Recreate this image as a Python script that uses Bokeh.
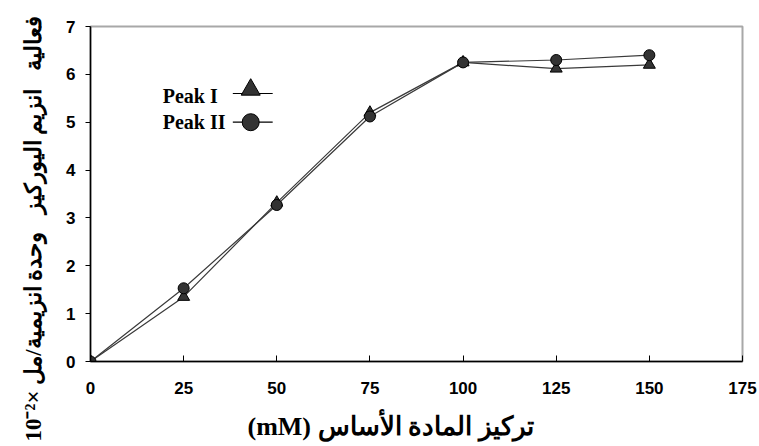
from bokeh.plotting import figure
from bokeh.models import Range1d, FixedTicker, Label, Title
from bokeh.embed import file_html
from bokeh.resources import INLINE

# ---- data ----
substrate_mM = [0, 25, 50, 75, 100, 125, 150]
peak1 = [0.0, 1.35, 3.32, 5.20, 6.25, 6.12, 6.20]
peak2 = [0.0, 1.53, 3.27, 5.12, 6.25, 6.30, 6.40]
x_ticks = [0, 25, 50, 75, 100, 125, 150, 175]
y_ticks = [0, 1, 2, 3, 4, 5, 6, 7]
series_names = ["Peak I", "Peak II"]
x_title = "(mM) تركيز المادة الأساس"
y_title = "10⁻²× فعالية\u00a0\u00a0 انزيم اليوركيز\u00a0\u00a0 وحدة انزيمية/مل"

LINE_COL = "#3a3a3a"
FILL_COL = "#333333"
NBSP = "\u00a0"

p = figure(frame_width=652, frame_height=335,
           min_border_left=90, min_border_right=17,
           min_border_top=26, min_border_bottom=85,
           x_range=Range1d(0, 175), y_range=Range1d(0, 7),
           output_backend="svg", toolbar_location=None)

p.background_fill_color = "white"
p.border_fill_color = "white"
p.outline_line_color = "#a8a8a8"
p.outline_line_width = 2
p.xgrid.visible = False
p.ygrid.visible = False

for ax in (p.xaxis[0], p.yaxis[0]):
    ax.axis_line_color = "black"
    ax.axis_line_width = 1.5
    ax.major_tick_line_color = "black"
    ax.minor_tick_line_color = None
    ax.major_label_text_font = "Liberation Sans"
    ax.major_label_text_font_style = "bold"
    ax.major_label_text_font_size = "17px"
    ax.major_label_text_color = "black"
    ax.axis_label_text_font = "Liberation Serif"
    ax.axis_label_text_font_style = "bold"
    ax.axis_label_text_color = "black"

p.xaxis.ticker = FixedTicker(ticks=x_ticks)
p.yaxis.ticker = FixedTicker(ticks=y_ticks)
p.xaxis.major_tick_in = 6
p.xaxis.major_tick_out = 0
p.xaxis.major_label_standoff = 20
p.yaxis.major_tick_in = 0
p.yaxis.major_tick_out = 5
p.yaxis.major_label_standoff = 10

# x title (padding shifts it off-centre like the reference)
p.xaxis.axis_label = x_title + NBSP * 8
p.xaxis.axis_label_text_font_size = "26px"
p.xaxis.axis_label_standoff = 15

# y title as a side title anchored at the frame bottom with an offset
p.add_layout(Title(text=y_title, align="left", offset=-80, standoff=32,
                   vertical_align="top",
                   text_font="Liberation Serif", text_font_style="bold",
                   text_font_size="23px", text_color="black"), "left")

# series
p.line(substrate_mM, peak1, line_color=LINE_COL, line_width=1.2)
p.line(substrate_mM, peak2, line_color=LINE_COL, line_width=1.2)
p.scatter(substrate_mM, peak1, marker="triangle", size=12,
          fill_color=FILL_COL, line_color="black", line_width=1)
p.scatter(substrate_mM, peak2, marker="circle", size=11,
          fill_color=FILL_COL, line_color="black", line_width=1)

# legend (label left of symbol)
leg_text_x = 19.4
leg_rows = [(5.54, 5.60, 5.68, "triangle", 19), (5.00, 5.00, 5.00, "circle", 17)]
for name, (ty, ly, my, mk, ms) in zip(series_names, leg_rows):
    p.add_layout(Label(x=leg_text_x, y=ty, text=name,
                       text_font="Liberation Serif", text_font_style="bold",
                       text_font_size="20px", text_color="black",
                       text_baseline="alphabetic", text_align="left"))
    p.line([38.2, 48.9], [ly, ly], line_color="black", line_width=1.2)
    p.scatter([43.0], [my], marker=mk, size=ms,
              fill_color=FILL_COL, line_color="black", line_width=1)

open("out.html", "w").write(file_html(p, INLINE))
